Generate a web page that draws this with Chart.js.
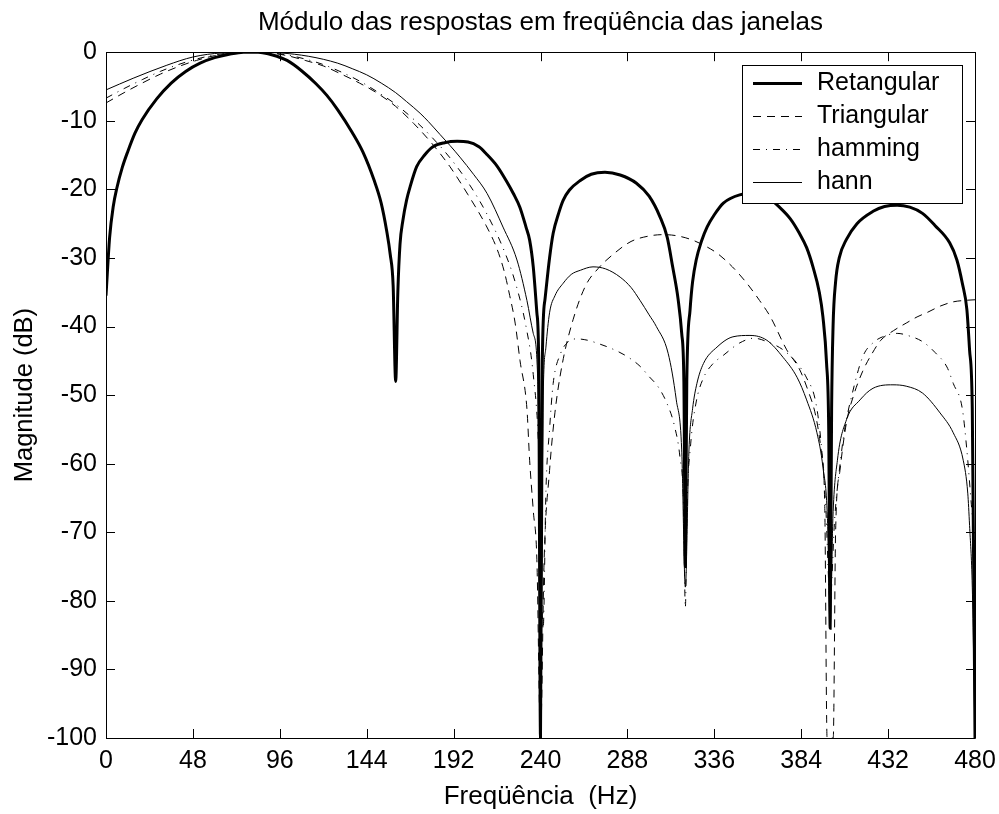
<!DOCTYPE html>
<html>
<head>
<meta charset="utf-8">
<title>Janelas</title>
<script src="https://cdn.jsdelivr.net/npm/chart.js@4.4.1/dist/chart.umd.min.js"></script>
<style>
  body { margin: 0; background: #fff; }
  #caixa { width: 999px; height: 814px; }
</style>
</head>
<body>
<div id="caixa"><canvas id="janelas" width="999" height="814"></canvas></div>
<script>
// valores (Hz, dB)
const freqRet = [0, 2, 4, 6, 9, 12, 16, 20, 28, 36, 44, 52, 60, 68, 76, 84, 92, 100, 108, 116, 122, 128, 136, 142, 148, 152, 155, 157, 158.6, 160, 161.2, 162.4, 164, 166, 168, 171.6, 176, 180.6, 187, 194, 200, 206, 210, 216, 221, 225, 228.6, 232, 234, 236, 238, 239, 240, 241, 242.5, 245, 247, 250, 252.5, 256, 262, 268, 275.6, 284, 293, 300, 306, 310, 313, 316, 318, 319.2, 320, 320.8, 322.6, 324, 326, 329, 332, 336, 341, 350, 358, 366, 372, 378, 383, 387, 390.5, 394, 396, 398, 399.2, 400, 400.8, 401.6, 403, 405, 409, 414.8, 423.7, 430, 437, 444, 451, 458, 466, 470, 473, 475.5, 477, 478.5, 480];
const magRet = [-35.5, -27, -22.5, -19.8, -16.8, -14.5, -11.8, -9.8, -6.8, -4.5, -2.8, -1.6, -0.8, -0.3, 0, 0, -0.4, -1.2, -2.7, -4.6, -6.3, -8.4, -11.7, -14.6, -18.6, -22, -26, -29.5, -34, -48, -35, -28, -24.5, -21.6, -19.6, -16.7, -15, -13.8, -13.2, -13.0, -13.1, -13.8, -14.8, -16.6, -18.7, -20.6, -22.6, -25.5, -27.4, -31.3, -38, -45, -100, -45, -36, -30, -26.4, -23.5, -21.6, -20.1, -18.7, -17.8, -17.5, -17.9, -19.1, -21, -24, -27, -31.3, -36, -41, -48, -75, -48, -37.6, -33.5, -30.3, -27.5, -25.5, -23.7, -22, -20.8, -20.6, -21.3, -22.6, -24.3, -26.4, -28.5, -31.3, -35, -38.6, -45.3, -55, -84, -52, -40, -33.5, -30, -27.3, -25, -23.2, -22.5, -22.3, -22.6, -23.5, -25.3, -27.8, -30.3, -33.7, -37.5, -43.4, -52, -100];

const freqTri = [0, 10, 20, 30, 40, 50, 60, 70, 80, 90, 100, 110, 120, 130, 140, 150, 160, 170, 180, 190, 200, 210, 216, 220, 223, 226, 228.7, 232.5, 234, 236, 238, 240, 242, 245, 248, 252, 258, 265, 272, 280, 290, 300, 308, 316, 324, 332, 338, 346, 354, 361, 367, 376, 383, 388, 392, 395, 397, 398.3, 401.7, 403, 405.4, 409, 413, 418, 423, 428, 435, 442, 448, 454, 461, 468, 474, 480];
const magTri = [-7.4, -5.9, -4.5, -3.2, -2.1, -1.2, -0.5, -0.1, 0, -0.1, -0.5, -1.2, -2.0, -3.2, -4.5, -6.0, -7.9, -10.4, -13.3, -16.7, -20.8, -25.3, -28.7, -32, -35.5, -39.5, -45, -52, -59.5, -66.8, -74, -100, -74, -61, -52.5, -45.5, -39, -34, -31.5, -29.5, -27.6, -26.8, -26.6, -26.8, -27.4, -28.4, -29.4, -31.3, -33.7, -36.2, -38.6, -43.4, -46.2, -49.5, -53, -58, -66, -100, -100, -70, -61, -54, -50, -46.5, -44, -42, -40.6, -39.5, -38.6, -37.9, -37, -36.4, -36.2, -36.1];

const freqHam = [0, 10, 20, 30, 40, 50, 60, 70, 80, 90, 100, 110, 120, 130, 140, 150, 160, 170, 180, 190, 200, 210, 220, 226, 232, 236, 239, 241.5, 243, 245, 247, 251, 255, 260, 266, 271, 280, 288, 295, 300, 305, 310, 314, 317, 319, 320, 321, 323, 326, 330, 335, 341, 350, 358, 365, 374, 381.5, 387, 392, 395, 397.5, 400, 402.5, 405.5, 408, 412, 418, 424, 429, 437, 444, 451, 458, 464.5, 468, 473, 475.5, 478, 480];
const magHam = [-6.7, -5.3, -4.0, -2.8, -1.8, -1.0, -0.4, -0.1, 0, -0.1, -0.4, -1.0, -1.8, -2.9, -4.2, -5.8, -7.6, -9.8, -12.4, -15.4, -19, -23.4, -29, -33.5, -40, -47, -58, -84, -64, -55, -48.3, -44, -42.3, -41.8, -42, -42.4, -43.3, -44.4, -45.8, -47.3, -48.8, -51.3, -54.5, -59, -66, -81, -66, -57, -51, -47.5, -45.5, -44.2, -42.4, -41.7, -42.2, -43.4, -45.3, -47.5, -51, -57, -66, -80, -68, -60, -55, -50, -44.4, -42.3, -41.5, -41, -41.4, -42.2, -43.8, -45.9, -48.3, -52, -58, -66, -72];

const freqHann = [0, 15, 33.6, 48, 64, 80, 96, 112, 128, 136, 144, 152, 160, 166, 173.5, 178, 184.5, 190, 195.5, 203, 210.5, 219.3, 227, 232.5, 236, 238.5, 240, 241.5, 243, 245, 248, 252.5, 257, 262, 269, 276, 284, 290, 295, 300, 304, 310.5, 315, 318, 320, 322, 324, 326.4, 330, 337.5, 346.3, 355.7, 365, 374, 381.7, 387, 392.7, 396, 398.5, 400, 401.5, 404, 409, 416.5, 423.7, 434.7, 442, 451, 460.7, 468, 473.5, 476, 477, 478.5, 480];
const magHann = [-5.5, -3.8, -1.9, -0.7, -0.1, 0, -0.1, -0.6, -1.6, -2.4, -3.3, -4.5, -5.9, -7.2, -8.9, -10.1, -12.0, -13.6, -15.3, -17.8, -20.6, -25.5, -30.3, -36.2, -41, -48, -90, -50, -43, -38, -35.5, -33.7, -32.4, -31.8, -31.3, -31.6, -32.8, -34.3, -36.2, -38.3, -40, -43.9, -50.7, -58, -78, -58, -52, -48.3, -45.4, -43, -41.5, -41.3, -42, -44.5, -47.4, -50.7, -55.5, -60.5, -68, -84, -68, -59.5, -53.6, -50.7, -49, -48.5, -48.7, -49.7, -52.6, -55.5, -59.5, -64.3, -69, -78, -100];

const nomes = ['Retangular', 'Triangular', 'hamming', 'hann'];
const ticksX = [0, 48, 96, 144, 192, 240, 288, 336, 384, 432, 480];

const fonte = '"Liberation Sans", Arial, Helvetica, sans-serif';

const pontos = (f, m) => f.map((v, i) => ({ x: v, y: m[i] }));

// caixa e marcas para dentro, estilo matlab
const eixos = {
    id: 'eixos',
    afterDatasetsDraw(chart) {
        const { ctx, chartArea: a, scales: { x, y } } = chart;
        const L = 9;
        ctx.save();
        ctx.strokeStyle = '#000';
        ctx.lineWidth = 1;
        ctx.beginPath();
        ctx.rect(Math.round(a.left) + 0.5, Math.round(a.top) + 0.5, Math.round(a.right - a.left), Math.round(a.bottom - a.top));
        x.ticks.forEach(t => {
            const px = Math.round(x.getPixelForValue(t.value)) + 0.5;
            ctx.moveTo(px, a.bottom); ctx.lineTo(px, a.bottom - L);
            ctx.moveTo(px, a.top); ctx.lineTo(px, a.top + L);
        });
        y.ticks.forEach(t => {
            const py = Math.round(y.getPixelForValue(t.value)) + 0.5;
            ctx.moveTo(a.left, py); ctx.lineTo(a.left + L, py);
            ctx.moveTo(a.right, py); ctx.lineTo(a.right - L, py);
        });
        ctx.stroke();
        ctx.restore();
    }
};

// legenda dentro da area, canto superior direito
const legenda = {
    id: 'legenda',
    afterDraw(chart) {
        const { ctx, chartArea: a } = chart;
        const w = 220, h = 138;
        const x0 = Math.round(a.right) - 233, y0 = Math.round(a.top) + 13;
        ctx.save();
        ctx.fillStyle = '#fff';
        ctx.fillRect(x0, y0, w, h);
        ctx.strokeStyle = '#000';
        ctx.lineWidth = 1;
        ctx.strokeRect(x0 + 0.5, y0 + 0.5, w, h);
        ctx.font = '25px ' + fonte;
        ctx.textBaseline = 'middle';
        chart.data.datasets.forEach((ds, i) => {
            const yy = y0 + 18 + i * 33;
            ctx.beginPath();
            ctx.lineWidth = ds.borderWidth;
            ctx.setLineDash(ds.borderDash || []);
            ctx.moveTo(x0 + 11, yy + 0.5);
            ctx.lineTo(x0 + 60, yy + 0.5);
            ctx.stroke();
            ctx.setLineDash([]);
            ctx.fillStyle = '#000';
            ctx.fillText(ds.label, x0 + 75, yy);
        });
        ctx.restore();
    }
};

const serie = (nome, f, m, largura, traco) => ({
    label: nome,
    data: pontos(f, m),
    borderColor: '#000',
    borderWidth: largura,
    borderDash: traco,
    pointRadius: 0,
    fill: false,
    cubicInterpolationMode: 'monotone'
});

const config = {
    type: 'line',
    data: {
        datasets: [
            serie(nomes[0], freqRet, magRet, 3, []),
            serie(nomes[1], freqTri, magTri, 1, [8, 6]),
            serie(nomes[2], freqHam, magHam, 1, [7, 6, 1, 6]),
            serie(nomes[3], freqHann, magHann, 1, [])
        ]
    },
    options: {
        responsive: false,
        devicePixelRatio: 1,
        animation: false,
        layout: { padding: { left: 0, right: 24, top: 0, bottom: 0 } },
        scales: {
            x: {
                type: 'linear',
                min: 0,
                max: 480,
                afterBuildTicks: s => { s.ticks = ticksX.map(v => ({ value: v })); },
                afterFit: s => { s.height = 76; s.paddingLeft = 0; s.paddingRight = 0; },
                grid: { display: false, drawTicks: false },
                border: { display: false },
                ticks: { color: '#000', font: { family: fonte, size: 25 }, padding: 8, maxRotation: 0, autoSkip: false },
                title: { display: true, text: 'Freqüência  (Hz)', color: '#000', font: { family: fonte, size: 26 }, padding: { top: 0, bottom: 2 } }
            },
            y: {
                type: 'linear',
                min: -100,
                max: 0,
                afterFit: s => { s.width = 106; },
                grid: { display: false, drawTicks: false },
                border: { display: false },
                ticks: { stepSize: 10, color: '#000', font: { family: fonte, size: 25 }, padding: 9 },
                title: { display: true, text: 'Magnitude (dB)', color: '#000', font: { family: fonte, size: 25.5 }, padding: { top: 10, bottom: 0 } }
            }
        },
        plugins: {
            legend: { display: false },
            tooltip: { enabled: false },
            title: {
                display: true,
                fullSize: false,
                text: 'Módulo das respostas em freqüência das janelas',
                color: '#000',
                font: { family: fonte, size: 26, weight: 'normal' },
                padding: { top: 7, bottom: 14 }
            }
        }
    },
    plugins: [eixos, legenda]
};

const grafico = new Chart(document.getElementById('janelas'), config);
</script>
</body>
</html>
